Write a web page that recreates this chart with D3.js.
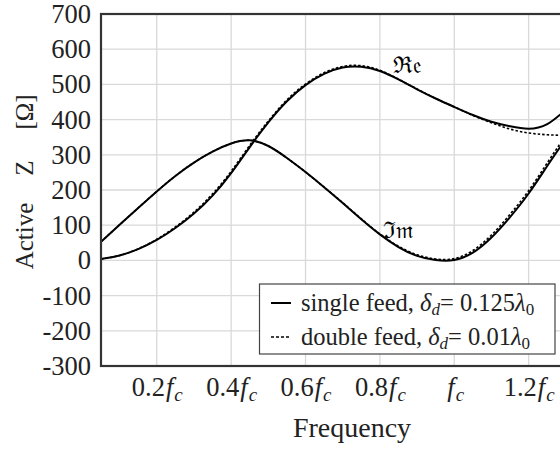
<!DOCTYPE html>
<html>
<head>
<meta charset="utf-8">
<script src="https://cdn.jsdelivr.net/npm/d3@7"></script>
<style>
  body { margin: 0; background: #fff; }
  svg { display: block; font-family: "Liberation Serif", "DejaVu Serif", serif; }
</style>
</head>
<body>
<figure id="chart" style="margin:0"></figure>
<script>
// frequency as fraction of fc
const freq = [0.05, 0.1, 0.15, 0.2, 0.25, 0.3, 0.35, 0.4, 0.45, 0.5, 0.55, 0.6, 0.65,
              0.7, 0.75, 0.8, 0.85, 0.9, 0.95, 1.0, 1.05, 1.1, 1.15, 1.2, 1.25, 1.3];
const reSingle = [4, 14, 32, 58, 92, 133, 184, 248, 322, 392, 452, 498, 530,
                  548, 550, 538, 514, 486, 460, 436, 413, 394, 381, 374, 387, 428];
const reDouble = [4, 14, 33, 60, 95, 137, 189, 253, 327, 396, 456, 501, 533,
                  551, 553, 540, 515, 487, 460, 436, 412, 391, 373, 362, 357, 355];
const imSingle = [53, 101, 149, 196, 240, 278, 309, 332, 341, 325, 291, 251, 208,
                  163, 117, 74, 38, 13, 1, 1, 22, 65, 123, 190, 268, 345];
const imDouble = [53, 101, 149, 196, 240, 278, 309, 332, 341, 325, 291, 251, 208,
                  164, 118, 75, 40, 16, 4, 5, 28, 72, 131, 198, 277, 355];
const xTicks = [0.2, 0.4, 0.6, 0.8, 1.0, 1.2];
const xTickNames = ["0.2", "0.4", "0.6", "0.8", "", "1.2"];
const yTicks = [-300, -200, -100, 0, 100, 200, 300, 400, 500, 600, 700];

const width = 560, height = 449;
const plotL = 101, plotR = 603, plotT = 14, plotB = 366;

const svg = d3.select("#chart").append("svg")
  .attr("width", width)
  .attr("height", height);

const x = d3.scaleLinear().domain([0.05, 1.4]).range([plotL, plotR]);
const y = d3.scaleLinear().domain([-300, 700]).range([plotB, plotT]);

// grid
const grid = svg.append("g");
grid.selectAll("line.v").data(xTicks).enter().append("line")
  .attr("x1", d => x(d)).attr("x2", d => x(d))
  .attr("y1", plotT).attr("y2", plotB)
  .attr("stroke", "#d9d9d9").attr("stroke-width", 1.3);
grid.selectAll("line.h").data(yTicks).enter().append("line")
  .attr("x1", plotL).attr("x2", plotR)
  .attr("y1", d => y(d)).attr("y2", d => y(d))
  .attr("stroke", "#d9d9d9").attr("stroke-width", 1.3);

// Y axis labels
const yAxis = svg.append("g")
  .attr("transform", "translate(" + plotL + ",0)")
  .call(d3.axisLeft(y).tickValues(yTicks).tickSize(0).tickPadding(10).tickFormat(d => String(d)));
yAxis.select(".domain").remove();
yAxis.selectAll("text")
  .attr("font-family", "Liberation Serif")
  .attr("font-size", 26.5)
  .attr("fill", "#222");

// X axis labels
const xAxis = svg.append("g")
  .attr("transform", "translate(0," + plotB + ")")
  .call(d3.axisBottom(x).tickValues(xTicks).tickSize(0).tickFormat(""));
xAxis.select(".domain").remove();
xAxis.selectAll(".tick text").each(function(d, i) {
  const t = d3.select(this)
    .attr("font-family", "Liberation Serif")
    .attr("font-size", 26.5)
    .attr("fill", "#222")
    .attr("y", 30)
    .attr("dy", null);
  t.append("tspan").text(xTickNames[i]);
  t.append("tspan").attr("font-style", "italic").attr("dx", 1).text("f");
  t.append("tspan").attr("font-style", "italic").attr("font-size", 19).attr("dx", 1).attr("dy", 5).text("c");
});

// clip
svg.append("clipPath").attr("id", "plot")
  .append("rect").attr("x", plotL).attr("y", plotT)
  .attr("width", plotR - plotL).attr("height", plotB - plotT);

// curves
const line = d3.line()
  .x((d, i) => x(freq[i]))
  .y(d => y(d))
  .curve(d3.curveNatural);

const curves = svg.append("g").attr("clip-path", "url(#plot)");
[reSingle, imSingle].forEach(s => {
  curves.append("path").datum(s).attr("d", line)
    .attr("fill", "none").attr("stroke", "#000").attr("stroke-width", 2);
});
[reDouble, imDouble].forEach(s => {
  curves.append("path").datum(s).attr("d", line)
    .attr("fill", "none").attr("stroke", "#000").attr("stroke-width", 1.6)
    .attr("stroke-dasharray", "2.5,2");
});

// frame
svg.append("rect")
  .attr("x", plotL).attr("y", plotT)
  .attr("width", plotR - plotL).attr("height", plotB - plotT)
  .attr("fill", "none").attr("stroke", "#333").attr("stroke-width", 2.2);

// Re / Im labels
svg.append("text").attr("x", 393).attr("y", 73)
  .attr("font-family", "DejaVu Serif").attr("font-size", 23)
  .text("\u211C\u{1D522}");
svg.append("text").attr("x", 383).attr("y", 238)
  .attr("font-family", "DejaVu Serif").attr("font-size", 23)
  .text("\u2111\u{1D52A}");

// legend
const lg = svg.append("g");
lg.append("rect").attr("x", 259.5).attr("y", 284).attr("width", 295.5).attr("height", 70)
  .attr("fill", "#fff").attr("stroke", "#444").attr("stroke-width", 1.2);
const legendRows = [
  { name: "single feed, ", val: "0.125", dash: null },
  { name: "double feed, ", val: "0.01", dash: "3,2" }
];
legendRows.forEach((r, i) => {
  const cy = 303 + i * 34;
  lg.append("line").attr("x1", 271).attr("x2", 291).attr("y1", cy).attr("y2", cy)
    .attr("stroke", "#000").attr("stroke-width", r.dash ? 1.6 : 2)
    .attr("stroke-dasharray", r.dash);
  const t = lg.append("text").attr("x", 301).attr("y", cy + 8)
    .attr("font-family", "Liberation Serif").attr("font-size", 24.5).attr("fill", "#222")
    .style("white-space", "pre");
  t.append("tspan").text(r.name);
  t.append("tspan").attr("font-style", "italic").text("\u03B4");
  t.append("tspan").attr("font-style", "italic").attr("font-size", 17).attr("dy", 4).text("d");
  t.append("tspan").attr("dy", -4).text("= " + r.val);
  t.append("tspan").attr("font-style", "italic").text("\u03BB");
  t.append("tspan").attr("font-size", 17).attr("dy", 4).text("0");
});

// axis titles
svg.append("text")
  .attr("x", 352).attr("y", 437)
  .attr("text-anchor", "middle")
  .attr("font-family", "Liberation Serif").attr("font-size", 28).attr("fill", "#222")
  .text("Frequency");
const yTitle = [
  { s: "Active", at: 236 },
  { s: "Z", at: 168 },
  { s: "[\u03A9]", at: 112 }
];
svg.append("g").selectAll("text").data(yTitle).enter().append("text")
  .attr("transform", d => "translate(33," + d.at + ") rotate(-90)")
  .attr("text-anchor", "middle")
  .attr("font-family", "Liberation Serif").attr("font-size", 25).attr("fill", "#222")
  .text(d => d.s);
</script>
</body>
</html>
